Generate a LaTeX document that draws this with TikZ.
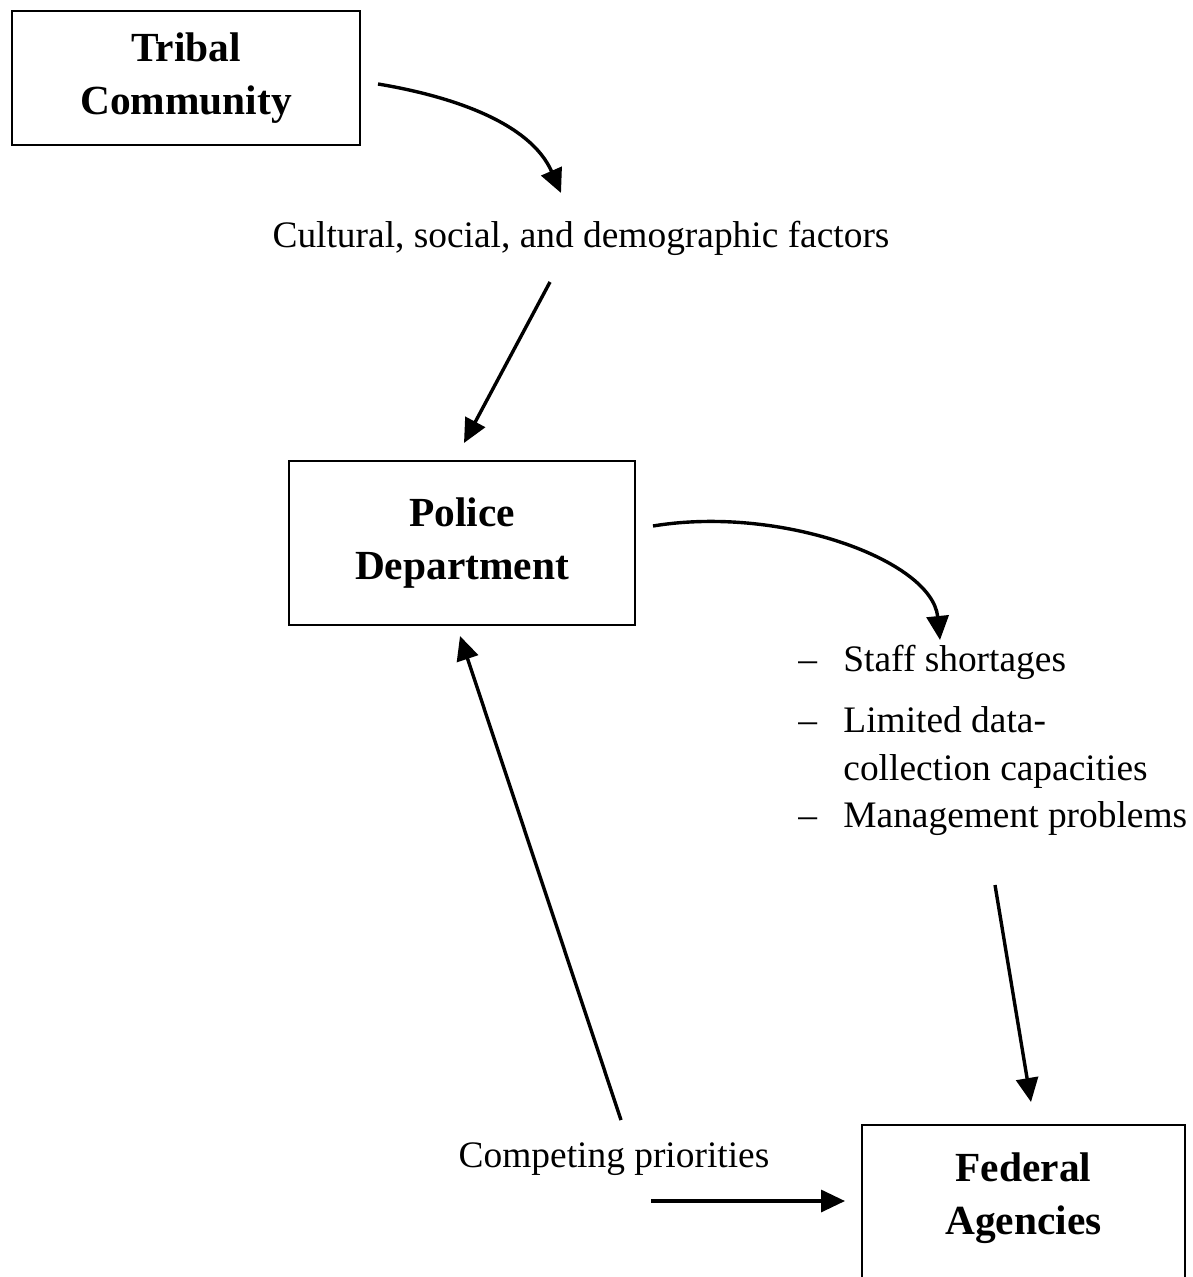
\documentclass[tikz,border=0pt]{standalone}
\usepackage{fontspec}
\setmainfont{Liberation Serif}
\usetikzlibrary{arrows.meta,positioning}
\newcommand{\listdash}{\makebox[22.5pt][l]{--}}

\begin{document}
\begin{tikzpicture}[x=0.5pt, y=-0.5pt, font=\fontsize{18.7}{23.75}\selectfont]
  \tikzset{
    b/.style={draw, line width=1pt, align=center, inner sep=0pt, font=\fontsize{20.7}{26.5}\selectfont\bfseries},
    arr/.style={-{Triangle[length=12pt,width=11pt]}, line width=1.7pt}
  }
  \useasboundingbox (0,0) rectangle (1192,1277);
  \clip (0,0) rectangle (1192,1277);
  % boxes
  \node[b, minimum width=174pt, minimum height=67pt] (tribal) at (186,78) {Tribal\\Community};
  \node[b, minimum width=173pt, minimum height=82pt] (police) at (462,543) {Police\\Department};
  \node[b, minimum width=161.5pt, anchor=north, inner ysep=14pt, text depth=60pt] (federal) at (1023.5,1124) {Federal\\Agencies};
  % labels
  \node (factors) at (581,238) {Cultural, social, and demographic factors};
  \node[align=left, anchor=north west, inner sep=0pt] (probs) at (798,645)
    {\listdash Staff shortages\\[6.75pt]
     \listdash Limited data-\\
     \hspace*{22.5pt}collection capacities\\
     \listdash Management problems};
  \node (compete) at (614,1159) {Competing priorities};
  % arrow ends
  \coordinate (tribalout) at (378,84);
  \coordinate (factorsin) at (561,193);
  \coordinate (factorsout) at (550,282);
  \coordinate (policein) at (464,443);
  \coordinate (policeout) at (653,526);
  \coordinate (probsin) at (940,640);
  \coordinate (probsout) at (995,885);
  \coordinate (federalin) at (1031,1102);
  \coordinate (competeup) at (621,1120);
  \coordinate (policeback) at (460,636);
  \coordinate (competeout) at (651,1201);
  \coordinate (federalside) at (845,1201);
  \draw[arr] (tribalout) .. controls (450,96) and (530,122) .. (factorsin);
  \draw[arr] (policeout) .. controls (780,505) and (932,560) .. (probsin);
  \draw[arr] (factorsout) -- (policein);
  \draw[arr] (probsout) -- (federalin);
  \draw[arr] (competeup) -- (policeback);
  \draw[arr] (competeout) -- (federalside);
\end{tikzpicture}
\end{document}
